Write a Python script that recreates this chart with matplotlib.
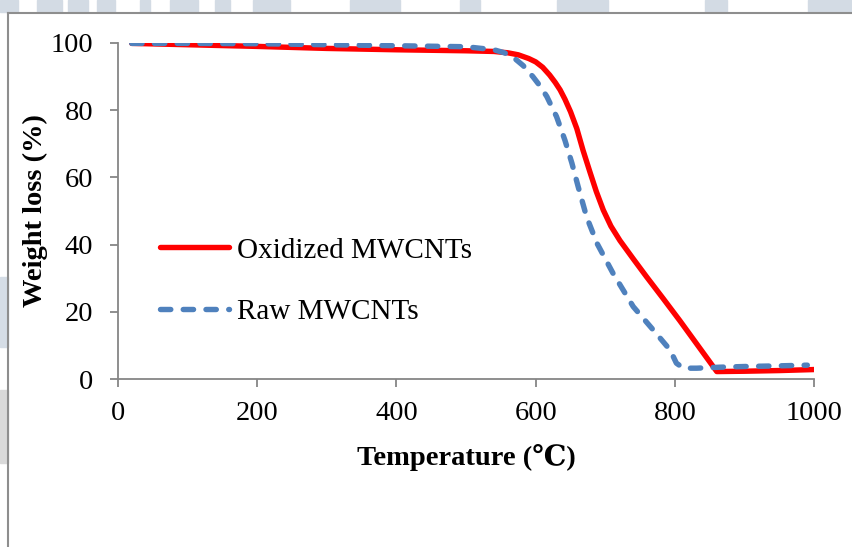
import matplotlib
matplotlib.use('Agg')
import matplotlib.pyplot as plt
from matplotlib.patches import Rectangle
from matplotlib.lines import Line2D

# TGA data
temp_oxidized = [20, 100, 200, 300, 400, 500, 540, 560, 575, 590, 600, 610, 620, 628, 635,
                 642, 650, 659, 668, 678, 687, 697, 708, 721, 740, 759, 783, 807, 860,
                 900, 950, 1000]
wt_oxidized = [99.8, 99.4, 98.9, 98.3, 97.9, 97.6, 97.4, 97.0, 96.4, 95.3, 94.3, 92.7,
               90.4, 88.2, 86, 83.2, 79.5, 74.5, 68, 61.5, 55.8, 50.3, 45.5, 41.2, 35.8,
               30.5, 24, 17.4, 2.3, 2.4, 2.6, 2.9]

temp_raw = [20, 100, 200, 300, 400, 500, 540, 555, 567, 582, 596, 606, 616, 630, 642, 652,
            661, 673, 688, 711, 740, 769, 793, 802, 812, 831, 865, 900, 950, 990]
wt_raw = [99.8, 99.8, 99.7, 99.4, 99.1, 98.8, 97.9, 97.0, 95.8, 93.2, 89.9, 87.2, 84, 78,
          71, 64.2, 57.2, 48.3, 40.4, 31.5, 21.6, 14.6, 8.7, 4.8, 3.3, 3.3, 3.6, 3.8,
          4.0, 4.2]

labels = ['Oxidized MWCNTs', 'Raw MWCNTs']
x_ticks = [0, 200, 400, 600, 800, 1000]
y_ticks = [0, 20, 40, 60, 80, 100]

serif = ['Liberation Serif', 'DejaVu Serif', 'Noto Sans CJK SC']
plt.rcParams['font.family'] = serif

W, H = 853, 547
fig = plt.figure(figsize=(W / 100, H / 100), dpi=100)

# faint watermark pieces behind the chart
wm = '#d3dbe4'
for x0, x1 in [(0, 18), (37, 62), (68, 88), (97, 115), (140, 150), (170, 198), (215, 230),
               (253, 290), (350, 400), (460, 480), (557, 608), (705, 727), (808, 853)]:
    fig.patches.append(Rectangle((x0 / W, 1 - 12 / H), (x1 - x0) / W, 12 / H,
                                 transform=fig.transFigure, color=wm, zorder=0))
fig.patches.append(Rectangle((0, 1 - 347 / H), 8 / W, 70 / H, transform=fig.transFigure,
                             color='#d5dde6', zorder=0))
fig.patches.append(Rectangle((0, 1 - 463 / H), 8 / W, 73 / H, transform=fig.transFigure,
                             color='#d9d9d9', zorder=0))

# outer chart frame (left and top edges visible)
fig.lines.append(Line2D([8 / W, 8 / W], [0, 1 - 13 / H], transform=fig.transFigure,
                        color='#8e8e8e', lw=1.5))
fig.lines.append(Line2D([8 / W, 1], [1 - 13 / H, 1 - 13 / H], transform=fig.transFigure,
                        color='#8e8e8e', lw=1.5))

ax = fig.add_axes([117.8 / W, 1 - 379.3 / H, 696.5 / W, 336.6 / H])
ax.patch.set_alpha(0)

ax.plot(temp_oxidized, wt_oxidized, color='#ff0000', lw=3.9, solid_capstyle='round',
        solid_joinstyle='round', label=labels[0])
ax.plot(temp_raw, wt_raw, color='#4f81bd', lw=3.9, dashes=(1.9, 2.3),
        dash_capstyle='round', dash_joinstyle='round', label=labels[1])

ax.set_xlim(0, 1000)
ax.set_ylim(0, 100)
ax.set_xticks(x_ticks)
ax.set_yticks(y_ticks)

for s in ['top', 'right']:
    ax.spines[s].set_visible(False)
for s in ['left', 'bottom']:
    ax.spines[s].set_color('#868686')
    ax.spines[s].set_linewidth(1.3)

ax.tick_params(axis='both', color='#868686', width=1.3, length=5.5, labelsize=20.5)
ax.tick_params(axis='x', pad=10)
ax.tick_params(axis='y', pad=12)

ax.set_xlabel('Temperature (℃)', fontsize=20.5, fontweight='bold', labelpad=13)
ax.set_ylabel('Weight loss (%)', fontsize=20.5, fontweight='bold', labelpad=2)

ax.legend(loc='center left', bbox_to_anchor=(0.0606, 0.292), frameon=False,
          fontsize=21, handlelength=2.35, handletextpad=0.3, labelspacing=1.2,
          borderpad=0, borderaxespad=0)

plt.savefig('out.png', dpi=100)
